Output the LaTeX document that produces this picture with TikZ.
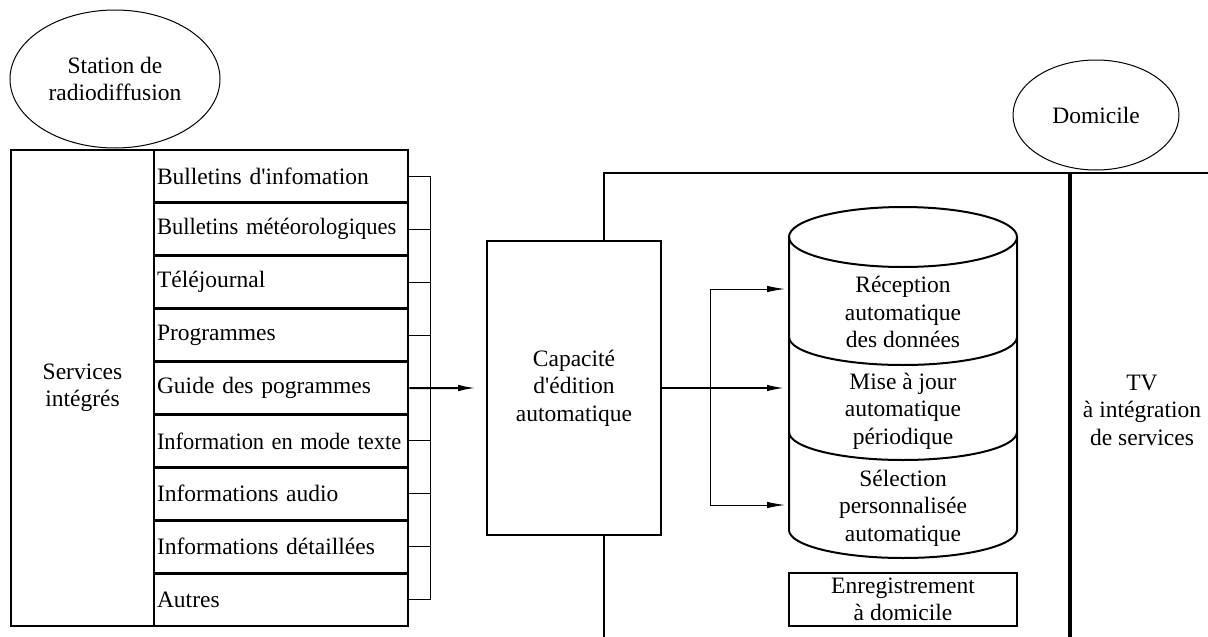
\documentclass[tikz,border=0pt]{standalone}
\usepackage{graphicx}
\usepackage{fontspec}
\setmainfont{Liberation Serif}
\usetikzlibrary{arrows.meta,shapes.geometric}
\begin{document}
\begin{tikzpicture}[x=1pt,y=-1pt,
  every node/.style={font=\fontsize{23.5}{27.5}\selectfont, inner sep=0pt, align=center},
  thinline/.style={line width=1pt},
  midline/.style={line width=2pt},
  thickline/.style={line width=3.2pt},
  tip/.style={-{Latex[length=18pt,width=6.5pt]}},
  oval/.style={ellipse, draw, line width=1pt},
  itembox/.style={draw, line width=2.8pt, minimum width=254pt, minimum height=52.9pt,
                  text width=248pt, align=left},
  plainbox/.style={draw, line width=1.6pt, fill=white}
]
\useasboundingbox (0,0) rectangle (1208,637);

% frame of the home side
\draw[midline] (604,637) -- (604,173) -- (1208,173);
\draw[thickline] (1070,173) -- (1070,637);

% broadcasting station
\node[oval, minimum width=210pt, minimum height=138pt] (station) at (115,79) {Station de\\radiodiffusion};
\node[draw, line width=1.3pt, minimum width=143pt, minimum height=476pt] (services) at (82.5,388) {Services\\intégrés};

% list of services (the two longest lines are set slightly narrower)
\foreach \i/\txt in {0/Bulletins d\textquotesingle infomation,
                     1/\scalebox{0.96}[1]{Bulletins météorologiques}, 2/Téléjournal,
                     3/Programmes, 4/Guide des pogrammes,
                     5/\scalebox{0.955}[1]{Information en mode texte},
                     6/Informations audio, 7/Informations détaillées, 8/Autres} {
  \node[itembox] (item\i) at (281,176.4+52.9*\i) {\txt};
  \coordinate (b\i) at (430,176.4+52.9*\i);
}
\foreach \i in {0,1,2,3,5,6,7,8} {
  \draw[thinline] (item\i.east) -- (b\i);
}
\draw[thinline] (b0) -- (b8);

% editing unit
\node[plainbox, minimum width=174pt, minimum height=294pt] (edit) at (574,388) {Capacité\\d\textquotesingle édition\\automatique};
\draw[midline, tip, shorten >=10pt] (item4.east) -- (edit.west);

% home storage cylinder
\draw[midline] (903,237) ellipse [x radius=114pt, y radius=30pt];
\draw[midline] (789,237) -- (789,530) arc[start angle=180, end angle=360, x radius=114pt, y radius=28pt] -- (1017,237);
\draw[midline] (789,337) arc[start angle=180, end angle=360, x radius=114pt, y radius=28pt];
\draw[midline] (789,432) arc[start angle=180, end angle=360, x radius=114pt, y radius=28pt];
\node (cyl1) at (903,312) {Réception\\automatique\\des données};
\node (cyl2) at (903,411) {Mise à jour\\automatique\\périodique};
\node (cyl3) at (903,508) {Sélection\\personnalisée\\automatique};
\coordinate (in1) at (789,289);
\coordinate (in2) at (789,388);
\coordinate (in3) at (789,505);
\coordinate (split1) at (710,289);
\coordinate (split3) at (710,505);

\draw[midline, tip, shorten >=4pt] (edit.east) -- (in2);
\draw[thinline] (split1) -- (split3);
\draw[thinline, tip, shorten >=4pt] (split1) -- (in1);
\draw[thinline, tip, shorten >=4pt] (split3) -- (in3);

\node[plainbox, minimum width=228pt, minimum height=53pt] (record) at (903,599.5) {Enregistrement\\à domicile};

% home side
\node[oval, minimum width=166pt, minimum height=110pt] (home) at (1096,115) {Domicile};
\node (tv) at (1142,410) {TV\\à intégration\\de services};
\end{tikzpicture}
\end{document}
